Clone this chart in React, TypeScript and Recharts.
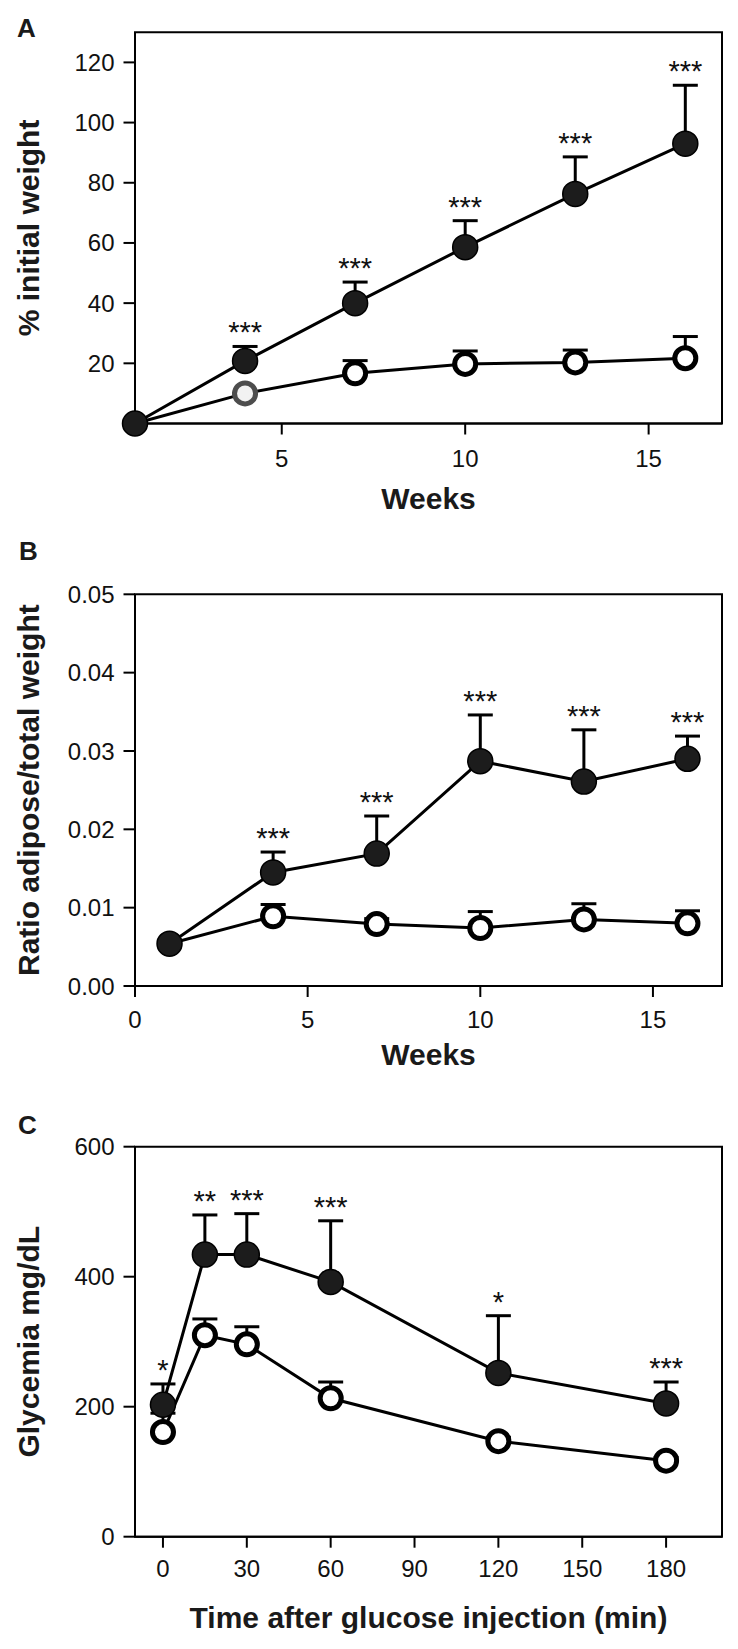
import React from 'react';
import { LineChart, Line, XAxis, YAxis, ErrorBar, LabelList, Label, ReferenceArea } from 'recharts';

const FONT = '"Liberation Sans", Arial, Helvetica, sans-serif';

// Panel A - body weight gain
const weeksA = [1, 4, 7, 10, 13, 16];
const hfdA = [0, 20.8, 40, 58.6, 76.3, 93];
const hfdErrA = [0, 4.8, 7, 8.8, 12.3, 19.4];
const ctrlA = [0, 10, 16.7, 19.8, 20.3, 21.7];
const ctrlErrA = [0, 0, 4.2, 4.3, 4.1, 7.2];
const starsA = ['', '***', '***', '***', '***', '***'];
const xTicksA = [5, 10, 15];
const yTicksA = [20, 40, 60, 80, 100, 120];

// Panel B - adipose ratio
const weeksB = [1, 4, 7, 10, 13, 16];
const hfdB = [0.0054, 0.0145, 0.0169, 0.0287, 0.0261, 0.029];
const hfdErrB = [0, 0.0026, 0.0048, 0.0059, 0.0066, 0.0029];
const ctrlB = [0.0054, 0.0089, 0.0079, 0.0074, 0.0085, 0.008];
const ctrlErrB = [0, 0.0015, 0.0007, 0.0021, 0.002, 0.0016];
const starsB = ['', '***', '***', '***', '***', '***'];
const xTicksB = [0, 5, 10, 15];
const yTicksB = [0, 0.01, 0.02, 0.03, 0.04, 0.05];

// Panel C - glucose tolerance test
const timesC = [0, 15, 30, 60, 120, 180];
const hfdC = [203, 434, 434, 392, 252, 205];
const hfdErrC = [32, 61, 63, 94, 88, 33];
const ctrlC = [161, 310, 296, 213, 147, 117];
const ctrlErrC = [29, 25, 27, 25, 6, 5];
const starsC = ['*', '**', '***', '***', '*', '***'];
const xTicksC = [0, 30, 60, 90, 120, 150, 180];
const yTicksC = [0, 200, 400, 600];

const buildRows = (xs: number[], hfd: number[], hfdErr: number[], ctrl: number[], ctrlErr: number[], stars: string[]) =>
  xs.map((x, i) => ({
    x,
    hfd: hfd[i],
    hfdErr: [0, hfdErr[i]],
    ctrl: ctrl[i],
    ctrlErr: [0, ctrlErr[i]],
    top: hfd[i] + hfdErr[i],
    stars: stars[i],
  }));

const filledDot = (props: any) => {
  const { cx, cy, index } = props;
  if (cx == null || cy == null) return <g key={`f${index}`} />;
  return <circle key={`f${index}`} cx={cx} cy={cy} r={12.5} fill="#1c1c1c" stroke="#000" strokeWidth={1.5} />;
};

const makeOpenDot = (skipIdx: number, greyIdx: number) => (props: any) => {
  const { cx, cy, index } = props;
  if (cx == null || cy == null || index === skipIdx) return <g key={`o${index}`} />;
  const grey = index === greyIdx;
  return (
    <circle
      key={`o${index}`}
      cx={cx}
      cy={cy}
      r={10.5}
      fill={grey ? '#f2f2f2' : '#fff'}
      stroke={grey ? '#4d4d4d' : '#000'}
      strokeWidth={5}
    />
  );
};

type PanelProps = {
  rows: any[];
  top: number;
  height: number;
  plotTop: number;
  plotBottom: number;
  xDomain: [number, number];
  yDomain: [number, number];
  xTicks: number[];
  yTicks: number[];
  yFmt?: (v: number) => string;
  xTickGap: number;
  xTitleGap: number;
  xTitle: string;
  yTitle: string;
  skipIdx: number;
  greyIdx: number;
};

const tickStyle = { fontSize: 24, fill: '#111', fontFamily: FONT };

const Panel = (p: PanelProps) => {
  const axisH = 80;
  return (
    <div style={{ position: 'absolute', left: 0, top: p.top }}>
      <LineChart
        width={738}
        height={p.height}
        data={p.rows}
        margin={{ top: p.plotTop - p.top, right: 16, left: 0, bottom: p.height - (p.plotBottom - p.top) - axisH }}
      >
        <ReferenceArea
          x1={p.xDomain[0]}
          x2={p.xDomain[1]}
          y1={p.yDomain[0]}
          y2={p.yDomain[1]}
          fill="none"
          stroke="#000"
          strokeWidth={2}
          ifOverflow="visible"
        />
        <XAxis
          dataKey="x"
          type="number"
          domain={p.xDomain}
          ticks={p.xTicks}
          interval={0}
          height={axisH}
          tickSize={11}
          tickMargin={p.xTickGap}
          tick={tickStyle}
          axisLine={{ stroke: '#000', strokeWidth: 2 }}
          tickLine={{ stroke: '#000', strokeWidth: 2 }}
        >
          <Label
            content={({ viewBox }: any) => (
              <text
                x={viewBox.x + viewBox.width / 2}
                y={viewBox.y + p.xTitleGap + 21.5}
                textAnchor="middle"
                fontSize={30}
                fontWeight="bold"
                fontFamily={FONT}
                fill="#1a1a1a"
              >
                {p.xTitle}
              </text>
            )}
          />
        </XAxis>
        <YAxis
          type="number"
          domain={p.yDomain}
          ticks={p.yTicks}
          interval={0}
          width={135}
          tickSize={11.5}
          tickMargin={9}
          tick={tickStyle}
          tickFormatter={p.yFmt}
          axisLine={{ stroke: '#000', strokeWidth: 2 }}
          tickLine={{ stroke: '#000', strokeWidth: 2 }}
        >
          <Label
            content={({ viewBox }: any) => {
              const cx = viewBox.x + 39;
              const cy = viewBox.y + viewBox.height / 2;
              return (
                <text
                  x={cx}
                  y={cy}
                  transform={`rotate(-90 ${cx} ${cy})`}
                  textAnchor="middle"
                  fontSize={30}
                  fontWeight="bold"
                  fontFamily={FONT}
                  fill="#1a1a1a"
                >
                  {p.yTitle}
                </text>
              );
            }}
          />
        </YAxis>
        <Line
          dataKey="hfd"
          type="linear"
          stroke="#000"
          strokeWidth={3}
          dot={filledDot}
          activeDot={false}
          isAnimationActive={false}
        >
          <ErrorBar dataKey="hfdErr" direction="y" width={12.5} stroke="#000" strokeWidth={3} />
        </Line>
        <Line
          dataKey="ctrl"
          type="linear"
          stroke="#000"
          strokeWidth={3}
          dot={makeOpenDot(p.skipIdx, p.greyIdx)}
          activeDot={false}
          isAnimationActive={false}
        >
          <ErrorBar dataKey="ctrlErr" direction="y" width={12.5} stroke="#000" strokeWidth={3} />
        </Line>
        <Line dataKey="top" stroke="none" dot={false} activeDot={false} isAnimationActive={false}>
          <LabelList dataKey="stars" position="top" offset={4} fontSize={29} fill="#111" fontFamily={FONT} />
        </Line>
      </LineChart>
    </div>
  );
};

const App = () => {
  const rowsA = buildRows(weeksA, hfdA, hfdErrA, ctrlA, ctrlErrA, starsA);
  const rowsB = buildRows(weeksB, hfdB, hfdErrB, ctrlB, ctrlErrB, starsB);
  const rowsC = buildRows(timesC, hfdC, hfdErrC, ctrlC, ctrlErrC, starsC);

  return (
    <div style={{ position: 'absolute', left: 0, top: 0, width: 738, height: 1649, background: '#fff' }}>
      <Panel
        rows={rowsA}
        top={0}
        height={520}
        plotTop={32.3}
        plotBottom={423.5}
        xDomain={[1, 17]}
        yDomain={[0, 130]}
        xTicks={xTicksA}
        yTicks={yTicksA}
        xTickGap={15.5}
        xTitleGap={63.5}
        xTitle="Weeks"
        yTitle="% initial weight"
        skipIdx={0}
        greyIdx={1}
      />
      <Panel
        rows={rowsB}
        top={520}
        height={570}
        plotTop={594.3}
        plotBottom={986}
        xDomain={[0, 17]}
        yDomain={[0, 0.05]}
        xTicks={xTicksB}
        yTicks={yTicksB}
        yFmt={(v) => v.toFixed(2)}
        xTickGap={13.5}
        xTitleGap={57.3}
        xTitle="Weeks"
        yTitle="Ratio adipose/total weight"
        skipIdx={0}
        greyIdx={-1}
      />
      <Panel
        rows={rowsC}
        top={1090}
        height={559}
        plotTop={1146.7}
        plotBottom={1536.7}
        xDomain={[-10, 200]}
        yDomain={[0, 600]}
        xTicks={xTicksC}
        yTicks={yTicksC}
        xTickGap={12.3}
        xTitleGap={69.3}
        xTitle="Time after glucose injection (min)"
        yTitle="Glycemia mg/dL"
        skipIdx={-1}
        greyIdx={-1}
      />
      <svg width={738} height={1649} style={{ position: 'absolute', left: 0, top: 0, pointerEvents: 'none' }}>
        <text x={17} y={36.6} fontSize={26} fontWeight="bold" fontFamily={FONT} fill="#1a1a1a">A</text>
        <text x={19} y={559.6} fontSize={26} fontWeight="bold" fontFamily={FONT} fill="#1a1a1a">B</text>
        <text x={18} y={1134} fontSize={26} fontWeight="bold" fontFamily={FONT} fill="#1a1a1a">C</text>
      </svg>
    </div>
  );
};

export default App;
